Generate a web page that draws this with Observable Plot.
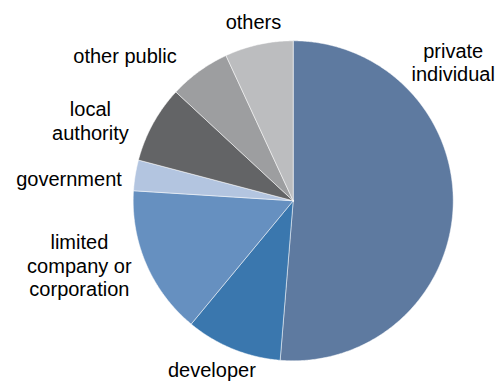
<!DOCTYPE html>
<html>
<head>
<meta charset="utf-8">
<script src="https://cdn.jsdelivr.net/npm/d3@7"></script>
<script src="https://cdn.jsdelivr.net/npm/@observablehq/plot@0.6"></script>
<style>
  html, body { margin: 0; padding: 0; background: #ffffff; }
  #chart svg { display: block; }
</style>
</head>
<body>
<div id="chart"></div>
<script>
// Owner types, clockwise from 12 o'clock
const categories = [
  "private individual",
  "developer",
  "limited company or corporation",
  "government",
  "local authority",
  "other public",
  "others"
];

// Share of the total (%)
const shares = [51.3, 9.7, 15.0, 3.1, 7.8, 6.2, 6.9];

// Label text as drawn (line breaks included)
const labelText = [
  "private\nindividual",
  "developer",
  "limited\ncompany or\ncorporation",
  "government",
  "local\nauthority",
  "other public",
  "others"
];

const sliceColors = ["#5e7aa0", "#3a77ae", "#6690c0", "#b3c5e0", "#636466", "#9d9ea0", "#bcbdbf"];

// Label placement: angle (degrees clockwise from top) and distance in pie radii
const labelAngle = [49.1, 205.7, 253.2, 275.7, 291.6, 310.8, 347.5];
const labelDistance = [1.323, 1.172, 1.396, 1.408, 1.363, 1.389, 1.148];

const W = 495, H = 382;
const cx = 292.7, cy = 200.3, R = 160;

// Slice outlines built from pie angles
const arcs = d3.pie().sort(null).value(d => d)(shares);
const slicePoints = [];
arcs.forEach((a, i) => {
  const cat = categories[i];
  slicePoints.push({cat, x: 0, y: 0});
  const step = Math.PI / 360;
  for (let t = a.startAngle; t < a.endAngle; t += step) {
    slicePoints.push({cat, x: Math.sin(t), y: Math.cos(t)});
  }
  slicePoints.push({cat, x: Math.sin(a.endAngle), y: Math.cos(a.endAngle)});
  slicePoints.push({cat, x: 0, y: 0});
});

const labels = categories.map((cat, i) => {
  const t = labelAngle[i] * Math.PI / 180;
  return {
    cat,
    text: labelText[i],
    x: labelDistance[i] * Math.sin(t),
    y: labelDistance[i] * Math.cos(t)
  };
});

const chart = Plot.plot({
  width: W,
  height: H,
  style: {background: "#ffffff", fontFamily: "'Liberation Sans', Arial, sans-serif"},
  x: {domain: [-1, 1], range: [cx - R, cx + R], axis: null},
  y: {domain: [-1, 1], range: [cy + R, cy - R], axis: null},
  color: {domain: categories, range: sliceColors},
  marks: [
    Plot.line(slicePoints, {
      x: "x",
      y: "y",
      z: "cat",
      fill: "cat",
      stroke: "#ffffff",
      strokeWidth: 0.7,
      strokeOpacity: 0.7,
      curve: "linear-closed"
    }),
    Plot.text(labels, {
      x: "x",
      y: "y",
      text: "text",
      fontSize: 20,
      lineHeight: 1.17,
      fill: "#000000",
      textAnchor: "middle"
    })
  ]
});

document.getElementById("chart").appendChild(chart);
</script>
</body>
</html>
